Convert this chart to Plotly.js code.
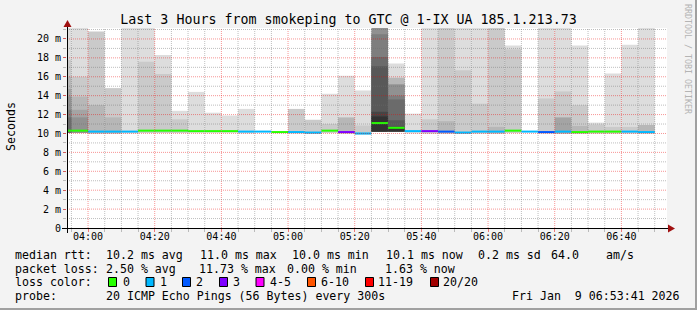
<!DOCTYPE html>
<html><head><meta charset="utf-8">
<script src="https://cdn.plot.ly/plotly-3.0.1.min.js"></script>
<style>html,body{margin:0;padding:0;background:#f3f3f3;}#chart{width:697px;height:310px;}</style>
</head><body><div id="chart"></div>
<script>
// ---------------- data ----------------
const DAY = '2026-01-09 ';
const slotStart = ['03:50','03:55','04:00','04:05','04:10','04:15','04:20','04:25','04:30','04:35','04:40','04:45',
  '04:50','04:55','05:00','05:05','05:10','05:15','05:20','05:25','05:30','05:35','05:40','05:45',
  '05:50','05:55','06:00','06:05','06:10','06:15','06:20','06:25','06:30','06:35','06:40','06:45'];
const medianRtt = [10.3,10.3,10.2,10.2,10.2,10.3,10.3,10.3,10.25,10.25,10.25,10.2,
  10.2,10.15,10.15,10.1,10.3,10.15,10.0,11.1,10.6,10.25,10.25,10.2,
  10.1,10.2,10.2,10.3,10.2,10.15,10.2,10.15,10.2,10.2,10.2,10.15];
// index into lossLabels / lossColors
const lossClass = [0,0,1,1,1,0,0,0,0,0,0,1,
  1,0,1,1,0,3,1,0,0,1,3,2,
  1,1,1,0,1,2,1,0,0,0,1,1];
const minRtt = [10.05,10.05,10.0,10.0,10.0,10.05,10.05,10.05,10.05,10.05,10.05,10.0,
  10.05,10.05,10.0,9.95,10.05,10.0,9.9,10.2,10.2,10.0,10.0,10.0,
  9.95,10.0,10.0,10.05,10.05,10.0,10.0,10.0,10.0,10.0,10.0,10.0];
const n = null;
// smoke layer tops, outermost (lightest) to innermost (darkest)
const smoke1 = [22,22,n,n,22,22,18.3,12.4,14.4,12.2,11.9,12.6,
  n,n,n,n,14.2,16.1,14.55,n,17.4,12.1,22,n,
  22,22,n,19.3,n,22,22,19.3,11.15,16.35,19.4,22];
const smoke2 = [17.8,16.0,20.8,14.8,n,17.6,16.3,11.5,n,n,n,n,
  n,n,12.6,11.45,11.0,n,10.85,n,n,n,11.5,22,
  16.7,13.15,22,18.9,n,13.7,14.45,13.0,10.95,10.7,10.7,n];
const smoke3 = [16.0,13.9,13.0,11.7,n,n,n,n,n,n,n,n,
  n,n,n,n,n,11.7,n,n,15.9,n,n,11.3,
  n,n,10.7,n,n,n,n,10.8,n,n,n,10.9];
const smoke4 = [14.7,12.5,n,n,n,n,n,n,n,n,n,n,
  n,n,n,n,n,n,n,n,n,n,n,n,
  n,n,n,n,n,n,11.7,n,n,n,n,n];
const smoke5 = [13.9,11.7,n,n,n,n,n,n,n,n,n,n,
  n,n,n,n,n,n,n,22,15.2,n,n,n,
  n,n,n,n,n,n,n,n,n,n,n,n];
const smoke6 = [12.5,n,n,n,n,n,n,n,n,n,n,n,
  n,n,n,n,n,n,n,20.5,14.0,n,n,n,
  n,n,n,n,n,n,n,n,n,n,n,n];
const smoke7 = [11.7,n,n,n,n,n,n,n,n,n,n,n,
  n,n,n,n,n,n,n,18.1,13.6,n,n,n,
  n,n,n,n,n,n,n,n,n,n,n,n];
const smoke8 = [n,n,n,n,n,n,n,n,n,n,n,n,
  n,n,n,n,n,n,n,17.1,11.4,n,n,n,
  n,n,n,n,n,n,n,n,n,n,n,n];
const smoke9 = [n,n,n,n,n,n,n,n,n,n,n,n,
  n,n,n,n,n,n,n,12.3,n,n,n,n,
  n,n,n,n,n,n,n,n,n,n,n,n];
const smoke10 = [n,n,n,n,n,n,n,n,n,n,n,n,
  n,n,n,n,n,n,n,11.8,10.7,n,n,n,
  n,n,n,n,n,n,n,n,n,n,n,n];
const lossLabels = ['0','1','2','3','4-5','6-10','11-19','20/20'];
const lossColors = ['#26ff00','#00b8ff','#0059ff','#7e00ff','#ff00ff','#ff5500','#ff0000','#a10000'];
const yTickVals = [0,2,4,6,8,10,12,14,16,18,20];
const yTickText = ['0','2 m','4 m','6 m','8 m','10 m','12 m','14 m','16 m','18 m','20 m'];
const titleText = 'Last 3 Hours from smokeping to GTC @ 1-IX UA 185.1.213.73';
const statRtt = ['median rtt:','10.2 ms avg','11.0 ms max','10.0 ms min','10.1 ms now','0.2 ms sd','64.0','am/s'];
const statLoss = ['packet loss:','2.50 % avg','11.73 % max','0.00 % min','1.63 % now'];
const probeText = ['probe:','20 ICMP Echo Pings (56 Bytes) every 300s','Fri Jan  9 06:53:41 2026'];
const lossColorLabel = 'loss color:';

// ---------------- layout helpers ----------------
const W = 697, H = 310, L = 67, T = 28, PW = 600, PH = 200;
const Y_MAX = 21.16;
const X = px => (px - L) / PW;
const Y = py => (T + PH - py) / PH;
const FONT = 'DejaVu Sans Mono';
const nb = s => s.replace(/ /g, '\u00a0');

const xs = slotStart.map(s => DAY + s);
const traces = [];
const smokeLayers = [smoke1,smoke2,smoke3,smoke4,smoke5,smoke6,smoke7,smoke8,smoke9,smoke10];
smokeLayers.forEach((layer, k) => {
  const v = Math.floor(190 / 10 * (10 - (k + 1))) + 50;
  traces.push({
    type: 'bar', x: xs, base: minRtt,
    y: layer.map((t, i) => t == null ? null : t - minRtt[i]),
    width: 300000, offset: 0,
    marker: {color: `rgb(${v},${v},${v})`, line: {width: 0}},
    hoverinfo: 'skip', showlegend: false
  });
});
const sw = Y_MAX / PH;
traces.push({
  type: 'bar', x: xs, base: medianRtt.map(m => m - sw), y: medianRtt.map(() => 2 * sw),
  width: 300000, offset: 0,
  marker: {color: lossClass.map(c => lossColors[c]), line: {width: 0}},
  hoverinfo: 'skip', showlegend: false
});

const shapes = [];
const minorGrid = 'rgba(110,110,110,0.45)', majorGrid = 'rgba(235,0,0,0.42)';
// vertical grid every 5 min
const t0 = new Date('2026-01-09T03:55:00Z').getTime();
for (let k = 0; k < 36; k++) {
  const d = new Date(t0 + k * 300000);
  const mm = d.getUTCMinutes();
  const str = '2026-01-09 ' + String(d.getUTCHours()).padStart(2,'0') + ':' + String(mm).padStart(2,'0');
  shapes.push({type:'line', xref:'x', yref:'paper', x0:str, x1:str, y0:0, y1:1, layer:'above',
    line:{color: mm % 20 === 0 ? majorGrid : minorGrid, width:1, dash:'1px,1px'}});
}
for (let v = 1; v <= 21; v++) {
  shapes.push({type:'line', xref:'paper', yref:'y', x0:0, x1:1, y0:v, y1:v, layer:'above',
    line:{color: v % 2 === 0 ? majorGrid : minorGrid, width:1, dash:'1px,1px'}});
}
// axes lines and arrows
shapes.push({type:'line', xref:'paper', yref:'paper', x0:X(62), x1:X(669), y0:Y(228.5), y1:Y(228.5), layer:'above', line:{color:'#000', width:1}});
shapes.push({type:'line', xref:'paper', yref:'paper', x0:X(67.5), x1:X(67.5), y0:Y(233), y1:Y(24), layer:'above', line:{color:'#000', width:1}});
shapes.push({type:'path', xref:'paper', yref:'paper', layer:'above', line:{width:0}, fillcolor:'#a01010',
  path:`M ${X(67.5)} ${Y(20)} L ${X(63.5)} ${Y(27)} L ${X(71.5)} ${Y(27)} Z`});
shapes.push({type:'path', xref:'paper', yref:'paper', layer:'above', line:{width:0}, fillcolor:'#a01010',
  path:`M ${X(675)} ${Y(228.5)} L ${X(668)} ${Y(224.5)} L ${X(668)} ${Y(232.5)} Z`});
// frame
shapes.push({type:'rect', xref:'paper', yref:'paper', x0:X(0), x1:X(697), y0:Y(308), y1:Y(310), line:{width:0}, fillcolor:'#a0a0a0', layer:'below'});
shapes.push({type:'rect', xref:'paper', yref:'paper', x0:X(695), x1:X(697), y0:Y(0), y1:Y(310), line:{width:0}, fillcolor:'#a0a0a0', layer:'below'});

// legend boxes
const boxX = [108.5,146,182.5,219.5,256,307.5,365.5,430.5];
const labelX = [123.5,160.5,197,234,271,322,379,444];
lossColors.forEach((c, i) => {
  shapes.push({type:'rect', xref:'paper', yref:'paper', x0:X(boxX[i]), x1:X(boxX[i]+8), y0:Y(286.5), y1:Y(277.5),
    fillcolor:c, line:{color:'#000', width:1}});
});

const annotations = [];
const ann = (px, py, text, extra) => annotations.push(Object.assign({
  xref:'paper', yref:'paper', x:X(px), y:Y(py), text:nb(text), showarrow:false,
  xanchor:'left', yanchor:'middle', borderpad:0, borderwidth:0,
  font:{family:FONT, size:11.6, color:'#000'}}, extra || {}));
const rttX = [16,107,200.5,293,386.5,479,552,607];
statRtt.forEach((s, i) => ann(rttX[i] - 1, 254.5, s));
const lossX = [16,107,200,288,385.5];
statLoss.forEach((s, i) => ann(lossX[i] - 1, 268.5, s));
ann(15, 282, lossColorLabel);
lossLabels.forEach((s, i) => ann(labelX[i] - 1, 282, s));
const probeX = [16,107,513];
probeText.forEach((s, i) => ann(probeX[i] - 1, 296, s));
ann(11, 127, 'Seconds', {xanchor:'center', textangle:-90});
ann(688, 59, 'RRDTOOL / TOBI OETIKER', {xanchor:'center', textangle:90, font:{family:FONT, size:8.3, color:'#b4b4b4'}});

const layout = {
  width: W, height: H,
  margin: {l: L, r: W - L - PW, t: T, b: H - T - PH, pad: 0},
  paper_bgcolor: '#f3f3f3', plot_bgcolor: '#ffffff',
  barmode: 'overlay', showlegend: false,
  title: {text: titleText, font: {family: FONT, size: 13.3, color: '#000'},
    x: 0.5, xref: 'container', xanchor: 'center', y: 1 - 19 / H, yref: 'container', yanchor: 'middle'},
  xaxis: {type: 'date', range: ['2026-01-09 03:53:41', '2026-01-09 06:53:41'],
    tick0: '2026-01-09 04:00:00', dtick: 1200000, tickformat: '%H:%M',
    ticks: 'outside', ticklen: 3, tickcolor: 'rgba(235,0,0,0.5)', ticklabelstandoff: -4,
    tickfont: {family: FONT, size: 10, color: '#000'},
    showgrid: false, zeroline: false, showline: false, automargin: false, fixedrange: true,
    minor: {dtick: 300000, tick0: '2026-01-09 04:00:00', ticks: 'outside', ticklen: 3, tickcolor: '#bbbbbb', showgrid: false}},
  yaxis: {range: [0, Y_MAX], tickmode: 'array', tickvals: yTickVals, ticktext: yTickText,
    ticks: 'outside', ticklen: 3, tickcolor: 'rgba(235,0,0,0.5)',
    tickfont: {family: FONT, size: 10, color: '#000'},
    showgrid: false, zeroline: false, showline: false, automargin: false, fixedrange: true,
    minor: {tickmode: 'linear', tick0: 0, dtick: 1, ticks: 'outside', ticklen: 3, tickcolor: '#bbbbbb', showgrid: false}},
  shapes: shapes, annotations: annotations
};
Plotly.newPlot('chart', traces, layout, {staticPlot: true, displayModeBar: false});
</script>
</body></html>
